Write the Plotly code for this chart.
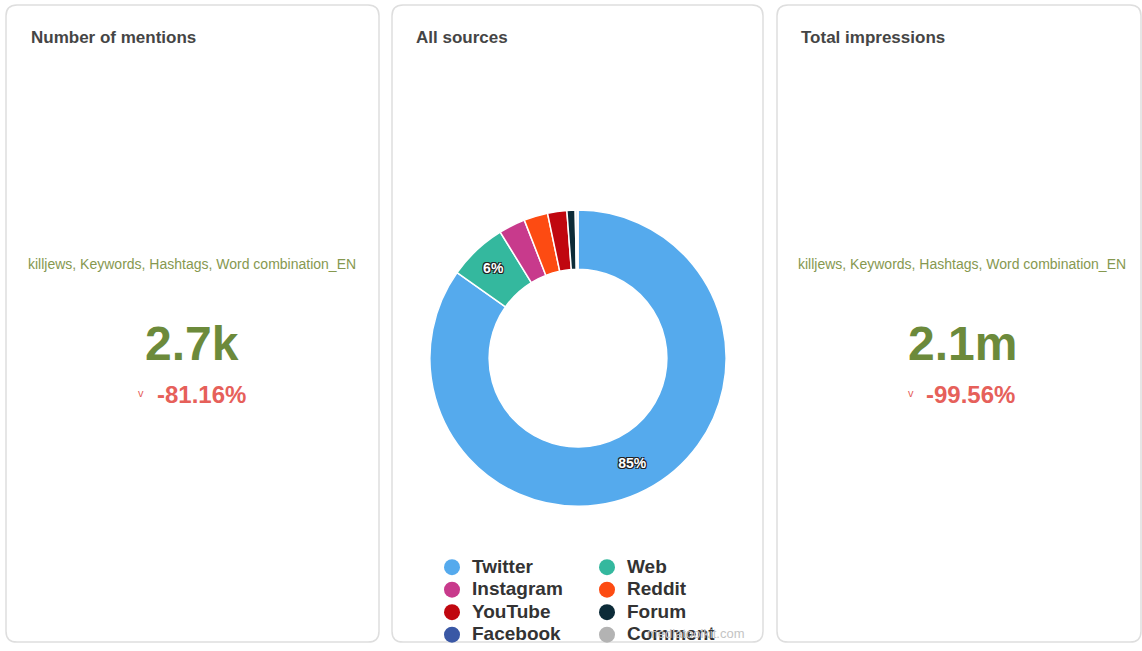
import plotly.graph_objects as go

W, H = 1142, 651

# ---- data ----
sources = ["Twitter", "Web", "Instagram", "Reddit", "YouTube", "Forum", "Facebook", "Comment"]
share = [84.8, 6.4, 2.9, 2.6, 2.1, 0.9, 0.2, 0.1]
colors = ["#55aaed", "#34b89e", "#c83a8c", "#fd4b12", "#c0070f", "#0c2b38", "#3a58a5", "#b3b3b3"]
shown_labels = ["85%", "6%", "", "", "", "", "", ""]

card_titles = ["Number of mentions", "All sources", "Total impressions"]
query_text = "killjews, Keywords, Hashtags, Word combination_EN"
kpi_values = ["2.7k", "2.1m"]
kpi_changes = ["-81.16%", "-99.56%"]

FONT = "Liberation Sans, Arial, sans-serif"


def px(x):
    return x / W


def py(y):
    return 1 - y / H


def rounded_rect(x0, y0, x1, y1, r):
    pts = [
        f"M {px(x0 + r)} {py(y0)}",
        f"L {px(x1 - r)} {py(y0)}",
        f"Q {px(x1)} {py(y0)} {px(x1)} {py(y0 + r)}",
        f"L {px(x1)} {py(y1 - r)}",
        f"Q {px(x1)} {py(y1)} {px(x1 - r)} {py(y1)}",
        f"L {px(x0 + r)} {py(y1)}",
        f"Q {px(x0)} {py(y1)} {px(x0)} {py(y1 - r)}",
        f"L {px(x0)} {py(y0 + r)}",
        f"Q {px(x0)} {py(y0)} {px(x0 + r)} {py(y0)}",
        "Z",
    ]
    return " ".join(pts)


fig = go.Figure()

# donut
fig.add_trace(go.Pie(
    labels=sources,
    values=share,
    text=shown_labels,
    textinfo="text",
    textposition="inside",
    insidetextorientation="horizontal",
    hole=0.6,
    sort=False,
    direction="clockwise",
    rotation=0,
    marker=dict(colors=colors, line=dict(color="white", width=1.5)),
    textfont=dict(family=FONT, size=14, color="white", weight="bold",
                  shadow="-1px -1px 0 #222, 1px -1px 0 #222, -1px 1px 0 #222, 1px 1px 0 #222"),
    domain=dict(x=[px(429), px(727)], y=[py(511), py(212)]),
    showlegend=False,
    hoverinfo="label+percent",
))

# legend entries (two columns)
for i, (name, c) in enumerate(zip(sources, colors)):
    fig.add_trace(go.Scatter(
        x=[None], y=[None], mode="markers",
        marker=dict(symbol="circle", size=16, color=c),
        name=f"<span style='font-size:19px'>{name}</span>",
        legend="legend" if i % 2 == 0 else "legend2",
        showlegend=True,
    ))

shapes = []
cards = [(6, 5, 379, 648), (392, 5, 763, 648), (777, 5, 1141, 648)]
for (x0, y0, x1, y1) in cards:
    shapes.append(dict(type="path", xref="paper", yref="paper",
                       path=rounded_rect(x0, y0, x1, y1, 11),
                       line=dict(color="#dedede", width=1.5), fillcolor="white", layer="below"))

annotations = []
title_x = [29, 414, 799]
for t, x in zip(card_titles, title_x):
    annotations.append(dict(text=t, x=px(x), y=py(38), xref="paper", yref="paper",
                            xanchor="left", yanchor="middle", showarrow=False,
                            font=dict(family=FONT, size=17, color="#454545", weight="bold")))

kpi_cx = [192, 962]
change_cx = [201, 971]
for cx, chx, v, ch in zip(kpi_cx, change_cx, kpi_values, kpi_changes):
    annotations.append(dict(text=query_text, x=px(cx), y=py(266), xref="paper", yref="paper",
                            xanchor="center", yanchor="middle", showarrow=False,
                            font=dict(family=FONT, size=14, color="#86984f")))
    annotations.append(dict(text=v, x=px(cx), y=py(347), xref="paper", yref="paper",
                            xanchor="center", yanchor="middle", showarrow=False,
                            font=dict(family=FONT, size=48, color="#6c8a3b", weight="bold")))
    annotations.append(dict(text=ch, x=px(chx), y=py(398), xref="paper", yref="paper",
                            xanchor="center", yanchor="middle", showarrow=False,
                            font=dict(family=FONT, size=24, color="#e6605a", weight="bold")))
    annotations.append(dict(text="v", x=px(chx - 60), y=py(397), xref="paper", yref="paper",
                            xanchor="center", yanchor="middle", showarrow=False,
                            font=dict(family=FONT, size=11, color="#e6605a")))

annotations.append(dict(text="mediatoolkit.com", x=px(747), y=py(639), xref="paper", yref="paper",
                        xanchor="right", yanchor="middle", showarrow=False,
                        font=dict(family=FONT, size=13, color="#c4c4c4")))

legend_common = dict(
    orientation="v", bgcolor="rgba(0,0,0,0)", borderwidth=0,
    font=dict(family=FONT, size=15, color="#333333", weight="bold"),
    xanchor="left", yanchor="top", yref="paper", xref="paper",
    itemclick=False, itemdoubleclick=False,
)

fig.update_layout(
    width=W, height=H,
    margin=dict(l=0, r=0, t=0, b=0),
    paper_bgcolor="white", plot_bgcolor="white",
    xaxis=dict(visible=False, domain=[0, 0.01]),
    yaxis=dict(visible=False, domain=[0, 0.01]),
    shapes=shapes,
    annotations=annotations,
    legend=dict(**legend_common, x=px(432), y=py(556)),
    legend2=dict(**legend_common, x=px(587), y=py(556)),
)

fig.write_html("out.html",
               config={"displayModeBar": False},
               post_script="document.body.style.margin='0';document.body.style.overflow='hidden';")
